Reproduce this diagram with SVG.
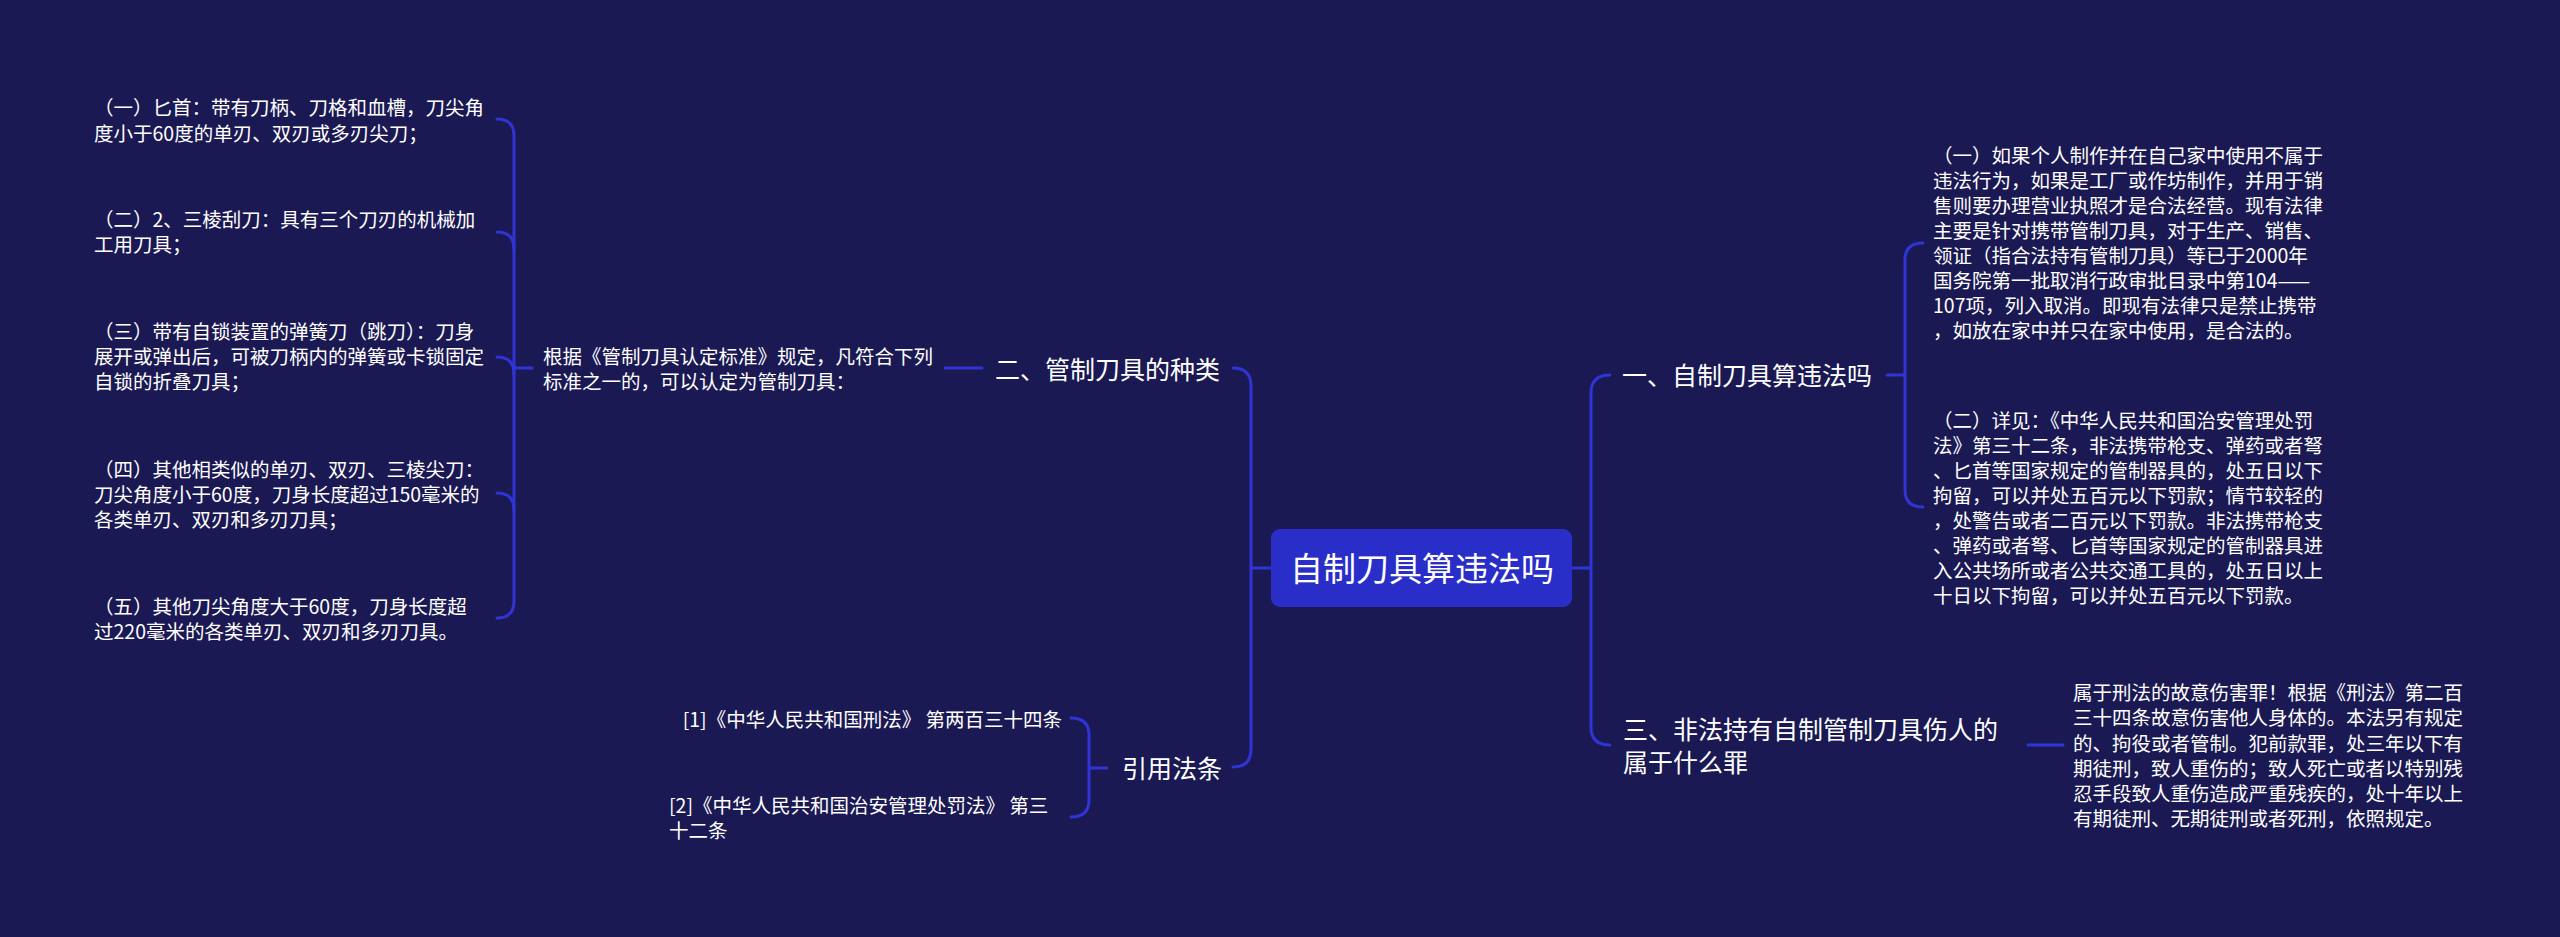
<svg xmlns="http://www.w3.org/2000/svg" width="2560" height="937" viewBox="0 0 2560 937">
<style>
.bg{fill:#1b1953}
.ln{fill:none;stroke:#2e35d4;stroke-width:3;stroke-linecap:round}
.t{font-family:"Microsoft YaHei","Noto Sans CJK SC","Noto Sans",sans-serif;fill:#ffffff}
.s{font-size:19.5px}
.m{font-size:25px}
.c{font-size:33px}
.box{fill:#2a2ec8}
</style>
<rect class="bg" x="0" y="0" width="2560" height="937"/>
<g id="connectors">
<path class="ln" d="M1251 568 L1271 568"/>
<path class="ln" d="M1233 368 Q1251 368 1251 386 L1251 749 Q1251 767 1233 767"/>
<path class="ln" d="M1572 568 L1591 568"/>
<path class="ln" d="M1610 375 Q1591 375 1591 393 L1591 727 Q1591 745 1610 745"/>
<path class="ln" d="M945 368 L982 368"/>
<path class="ln" d="M514 368 L532 368"/>
<path class="ln" d="M497 119 Q514 119 514 136 L514 601 Q514 618 497 618"/>
<path class="ln" d="M497 232 Q514 232 514 249"/>
<path class="ln" d="M497 357 Q514 357 514 374"/>
<path class="ln" d="M497 493 Q514 493 514 510"/>
<path class="ln" d="M1089 768 L1107 768"/>
<path class="ln" d="M1071 718 Q1089 718 1089 735 L1089 800 Q1089 817 1071 817"/>
<path class="ln" d="M1887 375 L1905 375"/>
<path class="ln" d="M1923 243 Q1905 243 1905 260 L1905 490 Q1905 507 1923 507"/>
<path class="ln" d="M2028 745 L2063 745"/>
</g>
<g id="center">
<rect class="box" x="1271" y="529" width="301" height="78" rx="9"/>
<text class="t c" x="1422" y="581" text-anchor="middle">自制刀具算违法吗</text>
</g>
<g id="n-kinds">
<text class="t m" x="995" y="379">二、管制刀具的种类</text>
</g>
<g id="n-kinds-desc">
<text class="t s" x="543" y="364">根据《管制刀具认定标准》规定，凡符合下列</text>
<text class="t s" x="543" y="389">标准之一的，可以认定为管制刀具：</text>
</g>
<g id="n-k1">
<text class="t s" x="94" y="115">（一）匕首：带有刀柄、刀格和血槽，刀尖角</text>
<text class="t s" x="94" y="141">度小于60度的单刃、双刃或多刃尖刀；</text>
</g>
<g id="n-k2">
<text class="t s" x="94" y="227">（二）2、三棱刮刀：具有三个刀刃的机械加</text>
<text class="t s" x="94" y="252">工用刀具；</text>
</g>
<g id="n-k3">
<text class="t s" x="94" y="339">（三）带有自锁装置的弹簧刀（跳刀）：刀身</text>
<text class="t s" x="94" y="364">展开或弹出后，可被刀柄内的弹簧或卡锁固定</text>
<text class="t s" x="94" y="389">自锁的折叠刀具；</text>
</g>
<g id="n-k4">
<text class="t s" x="94" y="477">（四）其他相类似的单刃、双刃、三棱尖刀：</text>
<text class="t s" x="94" y="502">刀尖角度小于60度，刀身长度超过150毫米的</text>
<text class="t s" x="94" y="527">各类单刃、双刃和多刃刀具；</text>
</g>
<g id="n-k5">
<text class="t s" x="94" y="614">（五）其他刀尖角度大于60度，刀身长度超</text>
<text class="t s" x="94" y="639">过220毫米的各类单刃、双刃和多刃刀具。</text>
</g>
<g id="n-refs">
<text class="t m" x="1122" y="778">引用法条</text>
</g>
<g id="n-ref1">
<text class="t s" x="1062" y="727" text-anchor="end">[1]《中华人民共和国刑法》 第两百三十四条</text>
</g>
<g id="n-ref2">
<text class="t s" x="669" y="813">[2]《中华人民共和国治安管理处罚法》 第三</text>
<text class="t s" x="669" y="838">十二条</text>
</g>
<g id="n-illegal">
<text class="t m" x="1622" y="385">一、自制刀具算违法吗</text>
</g>
<g id="n-i1">
<text class="t s" x="1933" y="163">（一）如果个人制作并在自己家中使用不属于</text>
<text class="t s" x="1933" y="188">违法行为，如果是工厂或作坊制作，并用于销</text>
<text class="t s" x="1933" y="213">售则要办理营业执照才是合法经营。现有法律</text>
<text class="t s" x="1933" y="238">主要是针对携带管制刀具，对于生产、销售、</text>
<text class="t s" x="1933" y="263">领证（指合法持有管制刀具）等已于2000年</text>
<text class="t s" x="1933" y="288">国务院第一批取消行政审批目录中第104——</text>
<text class="t s" x="1933" y="313">107项，列入取消。即现有法律只是禁止携带</text>
<text class="t s" x="1933" y="338">，如放在家中并只在家中使用，是合法的。</text>
</g>
<g id="n-i2">
<text class="t s" x="1933" y="428">（二）详见：《中华人民共和国治安管理处罚</text>
<text class="t s" x="1933" y="453">法》第三十二条，非法携带枪支、弹药或者弩</text>
<text class="t s" x="1933" y="478">、匕首等国家规定的管制器具的，处五日以下</text>
<text class="t s" x="1933" y="503">拘留，可以并处五百元以下罚款；情节较轻的</text>
<text class="t s" x="1933" y="528">，处警告或者二百元以下罚款。非法携带枪支</text>
<text class="t s" x="1933" y="553">、弹药或者弩、匕首等国家规定的管制器具进</text>
<text class="t s" x="1933" y="578">入公共场所或者公共交通工具的，处五日以上</text>
<text class="t s" x="1933" y="603">十日以下拘留，可以并处五百元以下罚款。</text>
</g>
<g id="n-injury">
<text class="t m" x="1623" y="739">三、非法持有自制管制刀具伤人的</text>
<text class="t m" x="1623" y="772">属于什么罪</text>
</g>
<g id="n-injury-desc">
<text class="t s" x="2073" y="700">属于刑法的故意伤害罪！根据《刑法》第二百</text>
<text class="t s" x="2073" y="725">三十四条故意伤害他人身体的。本法另有规定</text>
<text class="t s" x="2073" y="751">的、拘役或者管制。犯前款罪，处三年以下有</text>
<text class="t s" x="2073" y="776">期徒刑，致人重伤的；致人死亡或者以特别残</text>
<text class="t s" x="2073" y="801">忍手段致人重伤造成严重残疾的，处十年以上</text>
<text class="t s" x="2073" y="826">有期徒刑、无期徒刑或者死刑，依照规定。</text>
</g>
</svg>
